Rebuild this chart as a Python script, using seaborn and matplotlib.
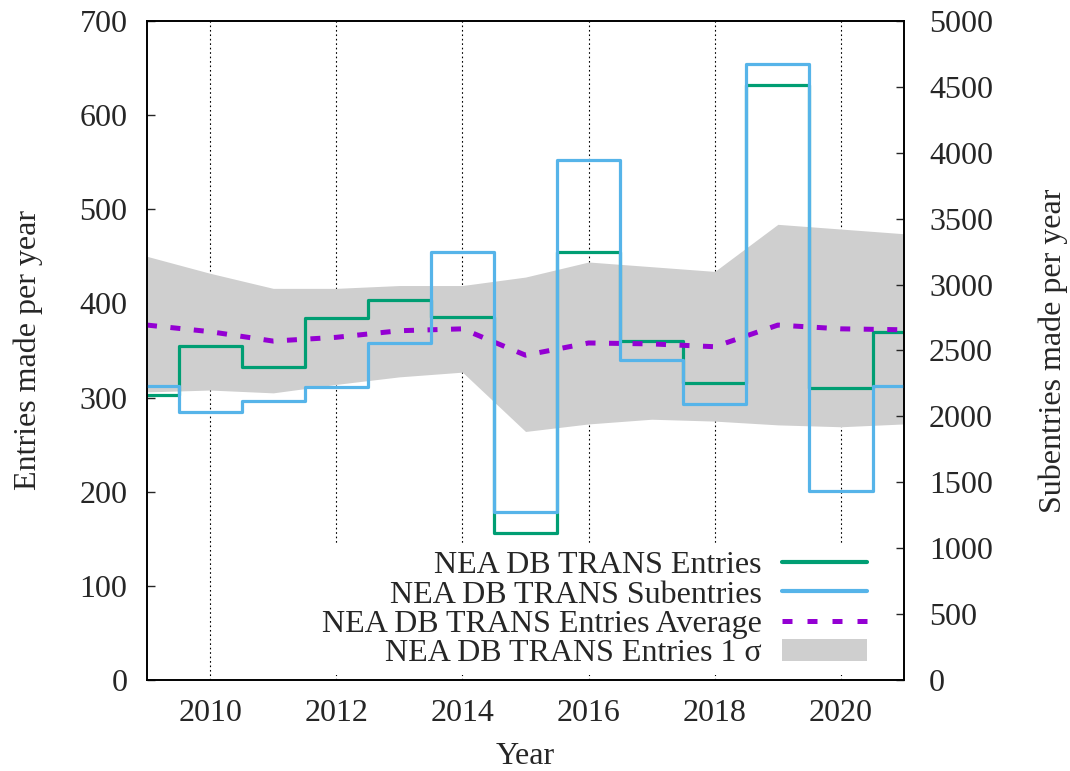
#!/usr/bin/env python3
"""
NEA DB TRANS : entrées et sous-entrées par année, avec moyenne et bande 1 sigma
"""

import numpy as np
import pandas as pd
import matplotlib
matplotlib.use("Agg")
import matplotlib.pyplot as plt
import seaborn as sns
from matplotlib.patches import Patch
from matplotlib.lines import Line2D

# Données
years = [2009, 2010, 2011, 2012, 2013, 2014, 2015, 2016, 2017, 2018, 2019, 2020, 2021]
entries = [303, 355, 333, 384, 404, 386, 156, 455, 360, 316, 632, 310, 370]
subentries = [2231, 2031, 2120, 2225, 2558, 3246, 1273, 3942, 2425, 2097, 4672, 1434, 2230]
entries_avg = [377, 370, 360, 364, 371, 373, 345, 358, 357, 354, 377, 373, 372]
sigma_upper = [450, 432, 416, 416, 419, 419, 428, 444, 439, 434, 484, 479, 474]
sigma_lower = [306, 308, 305, 314, 322, 327, 264, 272, 277, 275, 271, 269, 272]

x_ticks = [2010, 2012, 2014, 2016, 2018, 2020]
y1_ticks = list(range(0, 701, 100))
y2_ticks = list(range(0, 5001, 500))

labels = ["NEA DB TRANS Entries", "NEA DB TRANS Subentries",
          "NEA DB TRANS Entries Average", "NEA DB TRANS Entries 1 σ"]

GREEN = "#009e73"
BLUE = "#56b4e9"
PURPLE = "#9400d3"
GREY = "#cfcfcf"
FS = 23

df = pd.DataFrame({
    "year": years,
    "entries": entries,
    "subentries": subentries,
    "avg": entries_avg,
    "upper": sigma_upper,
    "lower": sigma_lower,
})

sns.set_style("white")
plt.rcParams["font.family"] = ["Liberation Serif", "DejaVu Serif"]
plt.rcParams["font.size"] = FS

fig, ax1 = plt.subplots(figsize=(10.7, 7.71), dpi=100)
fig.subplots_adjust(left=0.1374, right=0.8449, bottom=0.118, top=0.9728)
ax2 = ax1.twinx()

# bande 1 sigma + grille
ax1.fill_between(df["year"], df["lower"], df["upper"], color=GREY, lw=0, zorder=1)
for xv in x_ticks:
    ax1.axvline(xv, color="black", lw=0.8, ls=(0, (1.5, 2.5)), zorder=0.5)

sns.lineplot(data=df, x="year", y="entries", ax=ax1, color=GREEN, lw=2.3,
             drawstyle="steps-mid", zorder=2)
sns.lineplot(data=df, x="year", y="avg", ax=ax1, color=PURPLE, lw=3.6,
             linestyle=(0, (2.0, 2.7)), zorder=3)
sns.lineplot(data=df, x="year", y="subentries", ax=ax2, color=BLUE, lw=2.3,
             drawstyle="steps-mid", zorder=2)

ax1.set_xlim(2009, 2021)
ax1.set_ylim(0, 700)
ax2.set_ylim(0, 5000)
ax1.set_xticks(x_ticks)
ax1.set_yticks(y1_ticks)
ax2.set_yticks(y2_ticks)

for ax in (ax1, ax2):
    for sp in ax.spines.values():
        sp.set_linewidth(1.2)
        sp.set_color("black")
ax1.tick_params(axis="x", direction="in", length=6, width=1, pad=14, labelsize=FS)
ax1.tick_params(axis="y", direction="in", length=6, width=1, pad=14, labelsize=FS,
                right=False)
ax2.tick_params(axis="y", direction="in", length=6, width=1, pad=18, labelsize=FS,
                left=False)

ax1.set_xlabel("Year", fontsize=FS, labelpad=10)
ax1.set_ylabel("Entries made per year", fontsize=FS)
ax2.set_ylabel("Subentries made per year", fontsize=FS, rotation=90)
ax1.yaxis.set_label_coords(-0.137, 0.5)
ax2.yaxis.set_label_coords(1.178, 0.5)
ax2.yaxis.label.set_rotation(90)

handles = [
    Line2D([], [], color=GREEN, lw=3),
    Line2D([], [], color=BLUE, lw=3),
    Line2D([], [], color=PURPLE, lw=3.6, ls=(0, (2.0, 3.0))),
    Patch(facecolor=GREY, edgecolor="none"),
]
leg = ax2.legend(handles, labels, loc="lower right", bbox_to_anchor=(0.959, 0.008),
                 markerfirst=False, frameon=True, facecolor="white", edgecolor="none",
                 framealpha=1, fancybox=False, fontsize=FS, handlelength=2.66,
                 handletextpad=0.63, labelspacing=0.0, borderpad=0.2,
                 borderaxespad=0)
leg.set_zorder(10)

plt.savefig("out.png", dpi=100)
plt.close()
